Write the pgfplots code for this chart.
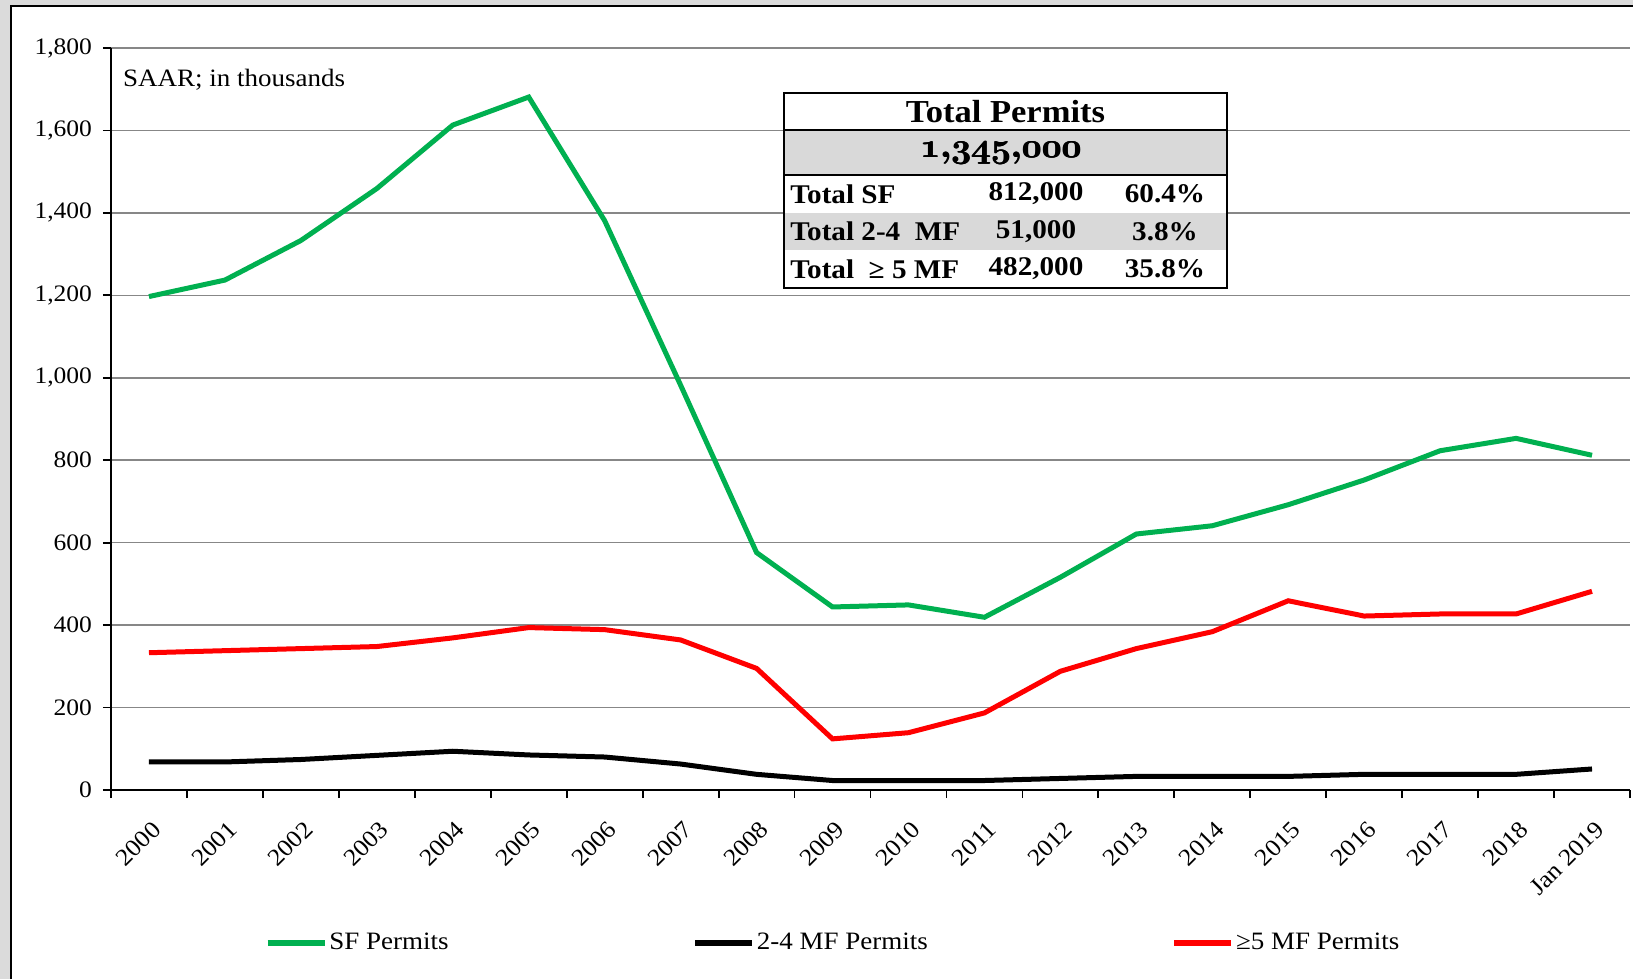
\documentclass[border=0pt]{standalone}
\usepackage{fontspec}
\setmainfont{Liberation Serif}[FakeStretch=1.08]
\usepackage{pgfplots}
\pgfplotsset{compat=1.18}
\definecolor{sfgreen}{HTML}{00B050}
\definecolor{mfred}{HTML}{FF0000}
\definecolor{gridgray}{HTML}{878787}
\definecolor{cellgray}{HTML}{D9D9D9}
% old-style figures for the total, as in the source
\newcommand{\osnum}{{\usefont{OML}{cmm}{b}{it}1\char59 345\char59 000}}

\begin{document}
\begin{tikzpicture}
\useasboundingbox (-55.5pt,-94.5pt) rectangle (761pt,395pt);
\fill[black!14] (-55.5pt,-94.5pt) rectangle (761pt,395pt);
\fill[white] (-50pt,-100pt) rectangle (770pt,392pt);
\draw[line width=1.2pt] (-50pt,-100pt) -- (-50pt,392pt) -- (770pt,392pt);
\begin{axis}[
  scale only axis, width=759.5pt, height=371pt,
  xmin=-0.5, xmax=19.5, ymin=0, ymax=1800,
  axis x line*=bottom, axis y line*=left,
  axis line style={-, line width=0.9pt, black},
  tick align=outside, major tick length=4pt, minor tick length=4pt,
  xtick={0,...,19},
  xticklabels={2000,2001,2002,2003,2004,2005,2006,2007,2008,2009,2010,2011,2012,2013,2014,2015,2016,2017,2018,Jan 2019},
  minor xtick={-0.5,0.5,...,19.5},
  major x tick style={draw=none},
  minor x tick style={line width=0.9pt, black},
  ytick={0,200,...,1800},
  ytick style={line width=0.9pt, black},
  ymajorgrids, grid style={gridgray, line width=0.75pt},
  /pgf/number format/.cd, 1000 sep={,}, assume math mode=true, /pgfplots/.cd,
  yticklabel style={font=\fontsize{11.8}{13}\selectfont, xshift=-2pt},
  xticklabel style={font=\fontsize{12}{13}\selectfont, rotate=45, anchor=east, xshift=-3.5pt, yshift=-12.5pt},
  legend columns=3,
  legend style={at={(0.097,-0.206)}, anchor=west, draw=none, fill=none,
    font=\fontsize{12.5}{14}\selectfont, nodes={inner sep=0.8pt},
    /tikz/every even column/.append style={column sep=121pt}},
  legend image code/.code={\draw[#1, line width=3pt] (0pt,0pt) -- (28.5pt,0pt);},
]
\addplot[sfgreen, line width=2.5pt] coordinates {
(0,1197) (1,1237) (2,1333) (3,1459) (4,1613) (5,1681) (6,1381) (7,982) (8,576) (9,444)
(10,449) (11,419) (12,516) (13,621) (14,641) (15,692) (16,752) (17,823) (18,853) (19,812)};
\addlegendentry{SF Permits}
\addplot[black, line width=2.5pt] coordinates {
(0,68) (1,68) (2,74) (3,84) (4,94) (5,85) (6,80) (7,63) (8,38) (9,23)
(10,23) (11,23) (12,28) (13,33) (14,33) (15,33) (16,38) (17,38) (18,38) (19,51)};
\addlegendentry{2-4 MF Permits}
\addplot[mfred, line width=2.5pt] coordinates {
(0,333) (1,338) (2,343) (3,348) (4,369) (5,394) (6,389) (7,364) (8,295) (9,124)
(10,139) (11,187) (12,288) (13,343) (14,384) (15,459) (16,422) (17,427) (18,427) (19,482)};
\addlegendentry{≥5 MF Permits}
\end{axis}
\node[anchor=base west, font=\fontsize{12.5}{14}\selectfont] at (2.5pt,351.5pt) {SAAR; in thousands};
% summary table
\fill[white] (336.5pt,251pt) rectangle (558pt,348.5pt);
\fill[cellgray] (336.5pt,307.5pt) rectangle (558pt,330pt);
\fill[cellgray] (336.5pt,270pt) rectangle (558pt,288.5pt);
\draw[line width=1.2pt] (336.5pt,251pt) rectangle (558pt,348.5pt);
\draw[line width=1.2pt] (336.5pt,330pt) -- (558pt,330pt);
\draw[line width=1.2pt] (336.5pt,307.5pt) -- (558pt,307.5pt);
\node[font=\bfseries\fontsize{16}{18}\selectfont] at (447.25pt,339pt) {Total Permits};
% drawn three times, slightly offset, to make it heavier
\foreach \dx in {-0.25,0,0.25}
  \node[font=\fontsize{17}{19}\selectfont] at (445pt+\dx pt,318.5pt) {\osnum};
\begin{scope}[every node/.style={font=\bfseries\fontsize{13.5}{15}\selectfont, inner sep=0pt}]
\node[anchor=west] at (339.5pt,298pt) {Total SF};
\node at (462.5pt,298pt) {812,000};
\node at (527pt,298pt) {60.4\%};
\node[anchor=west] at (339.5pt,279.25pt) {Total 2-4\ \ MF};
\node at (462.5pt,279.25pt) {51,000};
\node at (527pt,279.25pt) {3.8\%};
\node[anchor=west] at (339.5pt,260.5pt) {Total\ \ ≥ 5 MF};
\node at (462.5pt,260.5pt) {482,000};
\node at (527pt,260.5pt) {35.8\%};
\end{scope}
\end{tikzpicture}
\end{document}
